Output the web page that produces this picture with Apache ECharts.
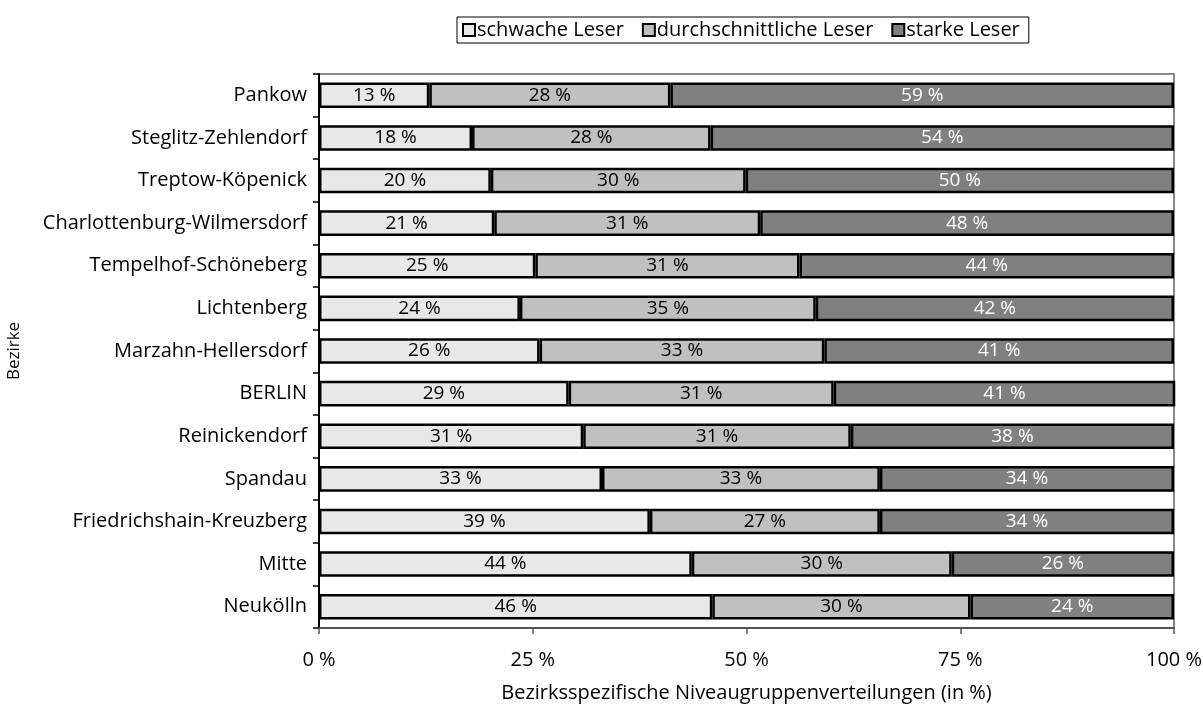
<!DOCTYPE html>
<html><head><meta charset="utf-8">
<script src="https://cdn.jsdelivr.net/npm/echarts@6/dist/echarts.min.js"></script>
<style>html,body{margin:0;padding:0;background:#fff}#c{width:1203px;height:708px}</style>
</head><body><div id="c"></div>
<script>
const categories = ['Pankow','Steglitz-Zehlendorf','Treptow-Köpenick','Charlottenburg-Wilmersdorf','Tempelhof-Schöneberg','Lichtenberg','Marzahn-Hellersdorf','BERLIN','Reinickendorf','Spandau','Friedrichshain-Kreuzberg','Mitte','Neukölln'];
const schwach = [12.9,17.9,20.1,20.5,25.3,23.5,25.8,29.2,30.9,33.1,38.7,43.6,46.0];
const mittel  = [28.2,27.9,29.8,31.1,30.9,34.6,33.3,31.0,31.3,32.5,26.9,30.4,30.2];
const stark   = [58.9,54.2,50.1,48.4,43.8,41.9,40.9,41.1,37.8,34.4,34.4,26.0,23.8];
const seriesNames = ['schwache Leser','durchschnittliche Leser','starke Leser'];
const xTicks = [0,25,50,75,100];

const FONT = 'Open Sans';
const FS = 20;
const chart = echarts.init(document.getElementById('c'), null, {renderer:'canvas'});
function mk(name, data, color, labelColor){
  return {
    name, type:'bar', stack:'total', data, barCategoryGap:'40%',
    itemStyle:{color, borderColor:'#000', borderWidth:2.5},
    label:{show:true, position:'inside', color:labelColor, fontFamily:FONT, fontSize:19,
      formatter:p=>Math.round(p.value)+' %'},
    emphasis:{disabled:true}
  };
}
chart.setOption({
  animation:false,
  textStyle:{fontFamily:FONT},
  grid:{left:319, right:29, top:74, bottom:80, show:true, borderColor:'#888', borderWidth:2, outerBoundsMode:'none', containLabel:false},
  legend:{
    data:seriesNames, top:17, left:457,
    icon:'rect', itemWidth:12, itemHeight:12, itemGap:18,
    borderColor:'#000', borderWidth:1, padding:[3,9,3,5],
    textStyle:{fontFamily:FONT, fontSize:20, color:'#000', padding:[0,0,0,-3]}
  },
  xAxis:{
    type:'value', min:0, max:100, interval:25,
    name:'Bezirksspezifische Niveaugruppenverteilungen (in %)', nameLocation:'middle', nameGap:55,
    nameTextStyle:{fontFamily:FONT, fontSize:FS, color:'#000'},
    axisLine:{show:true, lineStyle:{color:'#555', width:2}},
    axisTick:{show:true, length:6, lineStyle:{color:'#555', width:1.5}},
    axisLabel:{fontFamily:FONT, fontSize:FS, color:'#000', margin:22, formatter:v=>v+' %'},
    splitLine:{show:false}
  },
  yAxis:{
    type:'category', data:categories, inverse:true,
    name:'Bezirke', nameLocation:'middle', nameGap:296, nameRotate:90,
    nameTextStyle:{fontFamily:FONT, fontSize:17, color:'#000'},
    axisLine:{show:true, lineStyle:{color:'#000', width:2}},
    axisTick:{show:true, length:6, lineStyle:{color:'#000', width:1.5}},
    axisLabel:{fontFamily:FONT, fontSize:FS, color:'#000', margin:12}
  },
  series:[
    mk(seriesNames[0], schwach, '#e8e8e8', '#000'),
    mk(seriesNames[1], mittel, '#c0c0c0', '#000'),
    mk(seriesNames[2], stark, '#808080', '#fff')
  ]
});
</script></body></html>
